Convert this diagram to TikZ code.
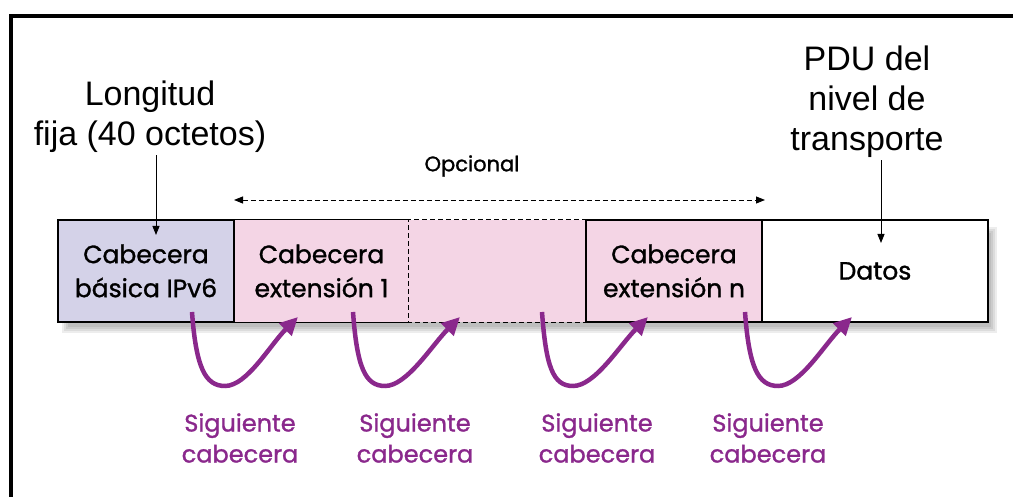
\documentclass[tikz,border=0pt]{standalone}
\usepackage{fontspec}
\setmainfont{Liberation Sans}
\newfontfamily\comicf[FakeBold=1.2]{Poppins}
\usetikzlibrary{arrows.meta}
\definecolor{lav}{HTML}{D4D2E8}
\definecolor{pinkb}{HTML}{F4D5E5}
\definecolor{purp}{HTML}{8A288C}
\begin{document}
\begin{tikzpicture}[x=1pt,y=1pt,
  cell/.style={minimum height=102pt, inner sep=0pt, align=center, line width=1.2pt, font=\comicf\fontsize{25}{34}\selectfont},
  toplabel/.style={align=center, inner sep=2pt, font=\fontsize{34}{40}\selectfont},
  nextlbl/.style={align=center, text=purp, font=\comicf\fontsize{24}{31}\selectfont},
  nextarrow/.style={purp, line width=4.5pt, -{Triangle[length=18pt,width=17pt]}},
  ptr/.style={black, line width=0.9pt, -{Triangle[length=9pt,width=7pt]}},
  optarrow/.style={black, line width=0.9pt, dash pattern=on 5pt off 3pt, {Triangle[length=9pt,width=7pt]}-{Triangle[length=9pt,width=7pt]}},
  celledge/.style={line width=1.2pt},
  dashedge/.style={line width=1.2pt, dash pattern=on 5pt off 3pt},
]
\useasboundingbox (0,0) rectangle (1013,497);
% frame
\draw[line width=4pt] (11,0) -- (11,481) -- (1013,481);
% shadow
\foreach \d in {0,2,4,6}
  \fill[black, opacity=0.07] (62+\d,164+\d) rectangle (997-\d,270-\d);
% cells
\node[cell, fill=lav, draw, minimum width=176pt] (b1) at (146,226) {Cabecera\\básica IPv6};
\node[cell, fill=pinkb, minimum width=175pt] (b2) at (321.5,226) {Cabecera\\extensión 1};
\node[cell, fill=pinkb, minimum width=177pt] (b3) at (497.5,226) {};
\node[cell, fill=pinkb, draw, minimum width=176pt] (b4) at (674,226) {Cabecera\\extensión n};
\node[cell, fill=white, draw, minimum width=226pt] (b5) at (875,226) {Datos};
\draw[celledge] (b2.north west) -- (b2.north east);
\draw[celledge] (b2.south west) -- (b2.south east);
\draw[dashedge] (b3.north east) -- (b3.north west) -- (b3.south west) -- (b3.south east);
\draw[celledge] (b1.north east) -- (b1.south east);
% top labels
\node[toplabel] (lf) at (150,380) {Longitud\\fija (40 octetos)};
\coordinate (lftip) at (156,262);
\draw[ptr] (lf.south -| lftip) -- (lftip);
\node[toplabel] (pdu) at (867,395) {PDU del\\nivel de\\transporte};
\coordinate (pdutip) at (881,254);
\draw[ptr] (pdu.south -| pdutip) -- (pdutip);
% optional
\node[font=\comicf\fontsize{21}{24}\selectfont] (opc) at (472,331) {Opcional};
\coordinate (oL) at (234,297);
\coordinate (oR) at (765,297);
\draw[optarrow] (oL) -- (oR);
% next header arrows
\foreach \i/\xs/\xb/\xt/\lx in {1/192/225/298/240, 2/353/385/460/415, 3/542/573/648/597, 4/745/778/852/768} {
  \coordinate (s\i) at (\xs,185);
  \coordinate (m\i) at (\xb,111);
  \coordinate (t\i) at (\xt,180);
  \draw[nextarrow] (s\i) .. controls +(4,-55) and +(-20,0) .. (m\i) .. controls +(22,0) and +(-28,-28) .. (t\i);
  \node[nextlbl] (n\i) at (\lx,59) {Siguiente\\cabecera};
}
\end{tikzpicture}
\end{document}
